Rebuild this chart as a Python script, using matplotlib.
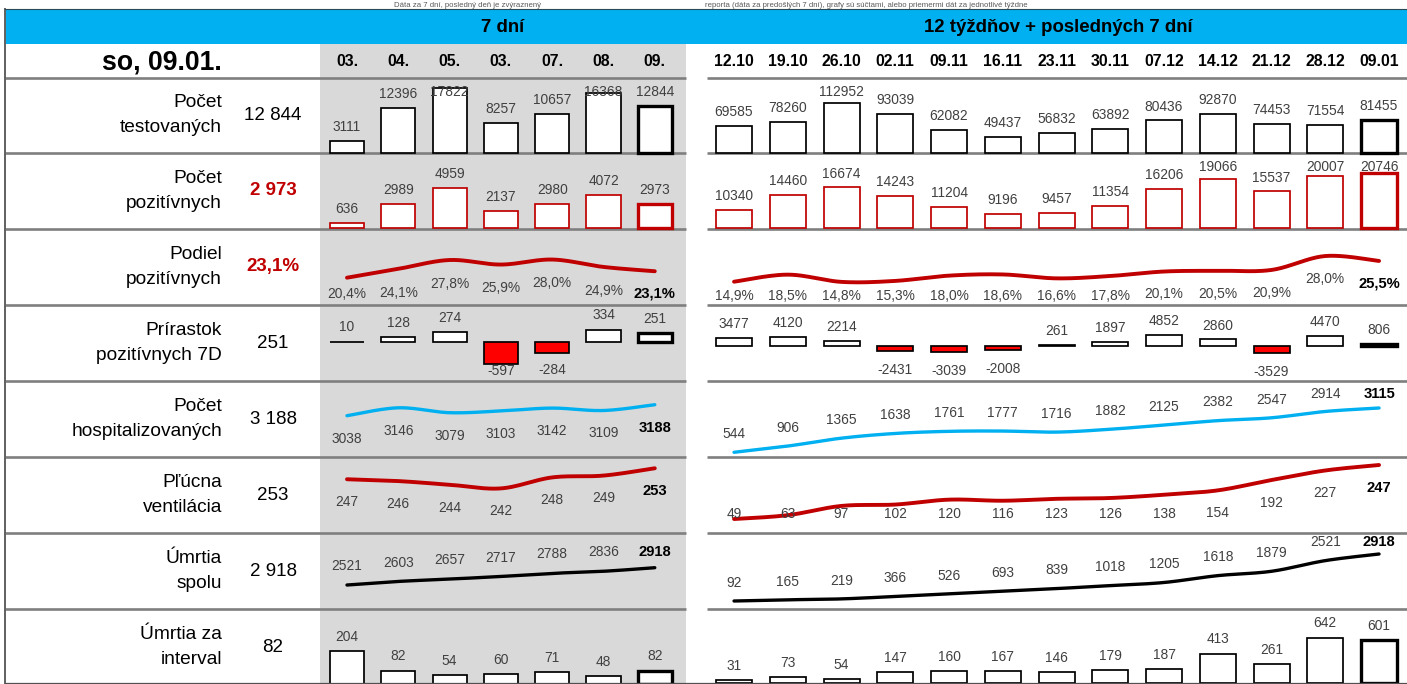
import matplotlib
matplotlib.use('Agg')
import matplotlib.pyplot as plt
from matplotlib.patches import Rectangle
from matplotlib.lines import Line2D
import numpy as np

# ---------------- data ----------------
row_names = [("Počet", "testovaných"), ("Počet", "pozitívnych"), ("Podiel", "pozitívnych"),
             ("Prírastok", "pozitívnych 7D"), ("Počet", "hospitalizovaných"),
             ("Pľúcna", "ventilácia"), ("Úmrtia", "spolu"), ("Úmrtia za", "interval")]
summary_values = [12844, 2973, 23.1, 251, 3188, 253, 2918, 82]
summary_red = [False, True, True, False, False, False, False, False]

days = ['03.', '04.', '05.', '03.', '07.', '08.', '09.']
weeks = ['12.10', '19.10', '26.10', '02.11', '09.11', '16.11', '23.11', '30.11',
         '07.12', '14.12', '21.12', '28.12', '09.01']
header_date = "so, 09.01."

tested_7d = [3111, 12396, 17822, 8257, 10657, 16368, 12844]
positive_7d = [636, 2989, 4959, 2137, 2980, 4072, 2973]
share_7d = [20.4, 24.1, 27.8, 25.9, 28.0, 24.9, 23.1]
increase_7d = [10, 128, 274, -597, -284, 334, 251]
hosp_7d = [3038, 3146, 3079, 3103, 3142, 3109, 3188]
vent_7d = [247, 246, 244, 242, 248, 249, 253]
deaths_total_7d = [2521, 2603, 2657, 2717, 2788, 2836, 2918]
deaths_int_7d = [204, 82, 54, 60, 71, 48, 82]

tested_w = [69585, 78260, 112952, 93039, 62082, 49437, 56832, 63892, 80436, 92870, 74453, 71554, 81455]
positive_w = [10340, 14460, 16674, 14243, 11204, 9196, 9457, 11354, 16206, 19066, 15537, 20007, 20746]
share_w = [14.9, 18.5, 14.8, 15.3, 18.0, 18.6, 16.6, 17.8, 20.1, 20.5, 20.9, 28.0, 25.5]
increase_w = [3477, 4120, 2214, -2431, -3039, -2008, 261, 1897, 4852, 2860, -3529, 4470, 806]
hosp_w = [544, 906, 1365, 1638, 1761, 1777, 1716, 1882, 2125, 2382, 2547, 2914, 3115]
vent_w = [49, 63, 97, 102, 120, 116, 123, 126, 138, 154, 192, 227, 247]
deaths_total_w = [92, 165, 219, 366, 526, 693, 839, 1018, 1205, 1618, 1879, 2521, 2918]
deaths_int_w = [31, 73, 54, 147, 160, 167, 146, 179, 187, 413, 261, 642, 601]

caption_left = "Dáta za 7 dní, posledný deň je zvýraznený"
caption_right = "reporta (dáta za predošlých 7 dní), grafy sú súčtami, alebo priemermi dát za jednotlivé týždne"
title_left = "7 dní"
title_right = "12 týždňov + posledných 7 dní"

# ---------------- style / layout ----------------
plt.rcParams['font.family'] = ['Liberation Sans', 'DejaVu Sans']
W, H = 1407, 684
fig = plt.figure(figsize=(W / 100, H / 100), dpi=100)
fig.patch.set_facecolor('white')

BLUE = '#00B0F0'
PANEL = '#D9D9D9'
SEP = '#7F7F7F'
DARKRED = '#C00000'
LBL = '#404040'
LBL_FS = 9.9
LBL_BOLD_FS = 10.6

seps = [77.5, 153, 229, 305, 381, 457, 533, 609, 685]

bg = fig.add_axes([0, 0, 1, 1], zorder=0)
bg.set_xlim(0, W)
bg.set_ylim(H, 0)
bg.set_axis_off()
bg.add_patch(Rectangle((5, 9), W - 5, 35, color=BLUE, lw=0))
bg.add_patch(Rectangle((320, 44), 366, H - 44, color=PANEL, lw=0))
for p in seps[:-1]:
    bg.plot([5, 686], [p, p], color=SEP, lw=1.9, solid_capstyle='butt')
    bg.plot([707, W], [p, p], color=SEP, lw=1.9, solid_capstyle='butt')
bg.plot([5, 5], [9, H], color='#606060', lw=1.4)
bg.plot([5, W], [9, 9], color='#2a4a5a', lw=0.8)
fig.add_artist(Line2D([5 / W, 1], [1 - 683.3 / H, 1 - 683.3 / H], transform=fig.transFigure,
                      color='#505050', lw=0.9, zorder=10))


def fig_text(x, p, s, **kw):
    return fig.text(x / W, 1 - p / H, s, **kw)


# captions above the blue band (small, so they fit in the top margin)
fig_text(468, 6.6, caption_left, ha='center', va='baseline', fontsize=5.6, color='#595959')
fig_text(705, 6.6, caption_right, ha='left', va='baseline', fontsize=5.6, color='#595959')
fig_text(503, 27, title_left, ha='center', va='center', fontsize=13.4, fontweight='bold')
fig_text(1058, 27, title_right, ha='center', va='center', fontsize=13.4, fontweight='bold')
fig_text(222, 62, header_date, ha='right', va='center', fontsize=19.2, fontweight='bold')


def fmt_int(v):
    return f"{v:,}".replace(',', ' ')


def fmt_pct(v):
    return f"{v:.1f}".replace('.', ',') + '%'


for r, (l1, l2) in enumerate(row_names):
    c = (seps[r] + seps[r + 1]) / 2
    fig_text(222, c - 12.5, l1, ha='right', va='center', fontsize=13.8)
    fig_text(222, c + 12.5, l2, ha='right', va='center', fontsize=13.8)
    v = summary_values[r]
    s = fmt_pct(v) if isinstance(v, float) else fmt_int(v)
    if summary_red[r]:
        fig_text(273, c, s, ha='center', va='center', fontsize=13.5, fontweight='bold', color=DARKRED)
    else:
        fig_text(273, c, s, ha='center', va='center', fontsize=13.5)

LEFT = (320, 686, (-0.526, 6.608), 0.663)
RIGHT = (700, 1407, (-0.633, 12.52), 0.67)


def add_ax(panel, ptop, pbot, ylim):
    x0, x1, xlim, _ = panel
    ax = fig.add_axes([x0 / W, 1 - pbot / H, (x1 - x0) / W, (pbot - ptop) / H], zorder=1)
    ax.set_axis_off()
    ax.patch.set_alpha(0)
    ax.set_xlim(*xlim)
    ax.set_ylim(*ylim)
    return ax


def put_label(ax, x, v, txt, off, lo=None, hi=None, **kw):
    X, Y = ax.transData.transform((x, v))
    p = H - Y - off
    if lo is not None:
        p = max(p, lo)
    if hi is not None:
        p = min(p, hi)
    fig.text(X / W, 1 - (p + 0.8) / H, txt, ha='center', va='center', **kw)


def date_row(ax, labels):
    for i, s in enumerate(labels):
        X, _ = ax.transData.transform((i, 0))
        fig.text(X / W, 1 - 62 / H, s, ha='center', va='center', fontsize=11.4, fontweight='bold')


def bar_chart(ax, panel, vals, edge, neg_fill=None, off_pos=14.7, off_neg=-17, lo=None, hi=None):
    base = ax.get_ylim()[0] if ax.get_ylim()[0] > 0 else 0
    n = len(vals)
    xs = np.arange(n)
    heights = [v - base for v in vals]
    fcs = [(neg_fill if (neg_fill and v < 0) else 'white') for v in vals]
    lws = [1.25] * (n - 1) + [2.4]
    ax.bar(xs, heights, bottom=base, width=panel[3], color=fcs, edgecolor=edge,
           linewidth=lws, clip_on=False)
    for i, v in enumerate(vals):
        if v >= 0:
            put_label(ax, i, v, str(v), off_pos, lo=lo, color=LBL, fontsize=LBL_FS)
        else:
            put_label(ax, i, v, str(v), off_neg, hi=hi, color=LBL, fontsize=LBL_FS)


def smooth(xs, ys, n=24):
    pts = np.column_stack([xs, ys]).astype(float)
    out = [pts[0]]
    t = np.linspace(0, 1, n)[1:, None]
    for i in range(len(pts) - 1):
        p0 = pts[i - 1] if i > 0 else pts[i]
        p1, p2 = pts[i], pts[i + 1]
        p3 = pts[i + 2] if i + 2 < len(pts) else pts[i + 1]
        c1 = p1 + (p2 - p0) / 6
        c2 = p2 - (p3 - p1) / 6
        seg = (1 - t) ** 3 * p1 + 3 * (1 - t) ** 2 * t * c1 + 3 * (1 - t) * t ** 2 * c2 + t ** 3 * p2
        out.extend(seg)
    return np.array(out)


def line_chart(ax, vals, color, lw, off, fmt, lo=None, hi=None):
    xs = np.arange(len(vals))
    cur = smooth(xs, vals)
    ax.plot(cur[:, 0], cur[:, 1], color=color, lw=lw, solid_capstyle='round', clip_on=False)
    for i, v in enumerate(vals):
        if i == len(vals) - 1:
            put_label(ax, i, v, fmt(v), off, lo=lo, hi=hi, color='black', fontsize=LBL_BOLD_FS,
                      fontweight='bold')
        else:
            put_label(ax, i, v, fmt(v), off, lo=lo, hi=hi, color=LBL, fontsize=LBL_FS)


# Row 0: tested
axL = add_ax(LEFT, 78, 152.5, (0, 20600))
axR = add_ax(RIGHT, 78, 152.5, (20480, 159650))
date_row(axL, days)
date_row(axR, weeks)
bar_chart(axL, LEFT, tested_7d, 'black', lo=91)
bar_chart(axR, RIGHT, tested_w, 'black', lo=91)

# Row 1: positive
axL = add_ax(LEFT, 154, 228, (0, 9174))
axR = add_ax(RIGHT, 154, 228, (5253, 26098))
bar_chart(axL, LEFT, positive_7d, DARKRED, lo=166)
bar_chart(axR, RIGHT, positive_w, DARKRED, lo=166)

# Row 2: share of positive
axL = add_ax(LEFT, 230, 306, (8.56, 40.36))
axR = add_ax(RIGHT, 230, 306, (2.5, 41.28))
line_chart(axL, share_7d, DARKRED, 2.8, -23, fmt_pct, hi=293)
line_chart(axR, share_w, DARKRED, 2.8, -22, fmt_pct, hi=295)

# Row 3: 7D increase
axL = add_ax(LEFT, 306, 382, (-1081, 973))
axR = add_ax(RIGHT, 306, 382, (-16500, 18045))
bar_chart(axL, LEFT, increase_7d, 'black', neg_fill='#FF0000', off_pos=15, off_neg=-17, hi=370)
bar_chart(axR, RIGHT, increase_w, 'black', neg_fill='#FF0000', off_pos=14.5, off_neg=-18, hi=371)

# Row 4: hospitalised
axL = add_ax(LEFT, 382, 458, (2461, 3498))
axR = add_ax(RIGHT, 382, 458, (213, 4624))
line_chart(axL, hosp_7d, BLUE, 2.4, -22, str)
line_chart(axR, hosp_w, BLUE, 2.4, 19, str, lo=393.5)

# Row 5: ventilation
axL = add_ax(LEFT, 458, 534, (217.1, 258.6))
axR = add_ax(RIGHT, 458, 534, (-6, 272.7))
line_chart(axL, vent_7d, DARKRED, 2.8, -22, str)
line_chart(axR, vent_w, DARKRED, 2.8, -22, str, hi=513.3)

# Row 6: deaths total
axL = add_ax(LEFT, 534, 610, (1948, 3691))
axR = add_ax(RIGHT, 534, 610, (-449, 4121))
line_chart(axL, deaths_total_7d, 'black', 2.4, 19.7, str, lo=551.7)
line_chart(axR, deaths_total_w, 'black', 2.4, 19, str, lo=541.7)

# Row 7: deaths in interval
axL = add_ax(LEFT, 610, 683.5, (0, 468))
axR = add_ax(RIGHT, 610, 682.5, (0, 1037))
bar_chart(axL, LEFT, deaths_int_7d, 'black', off_pos=15)
bar_chart(axR, RIGHT, deaths_int_w, 'black', off_pos=15)

fig.savefig('out.png', dpi=100, facecolor='white')
